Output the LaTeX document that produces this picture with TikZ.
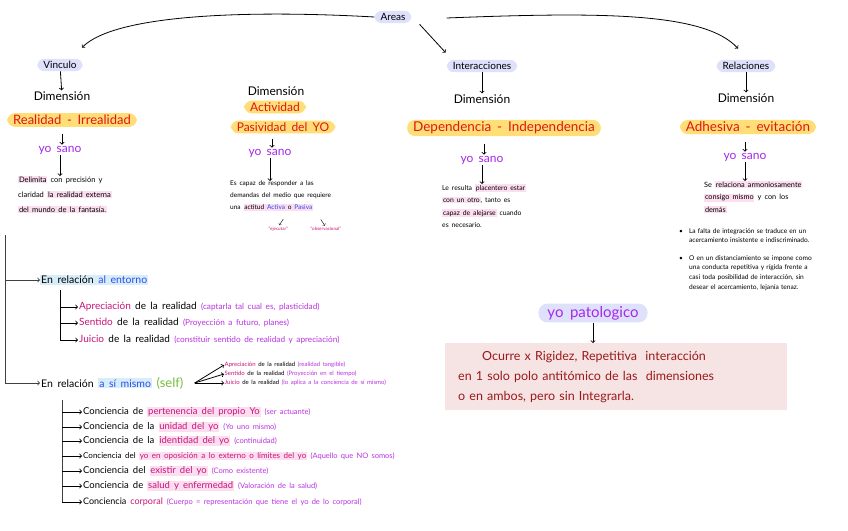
\documentclass[tikz,border=0pt]{standalone}
\usepackage{fontspec}
\setmainfont{Lato}[WordSpace=1.7]
\usetikzlibrary{arrows,shapes,positioning,calc}
\definecolor{lavender}{RGB}{222,224,252}
\definecolor{sunny}{RGB}{255,222,120}
\definecolor{redtext}{RGB}{222,22,22}
\definecolor{purp}{RGB}{165,40,235}
\definecolor{pinkhl}{RGB}{252,222,240}
\definecolor{magtext}{RGB}{200,20,120}
\definecolor{viol}{RGB}{185,50,225}
\definecolor{bluetxt}{RGB}{45,75,235}
\definecolor{bluehl}{RGB}{215,238,250}
\definecolor{greentxt}{RGB}{115,190,60}
\definecolor{boxfill}{RGB}{246,227,228}
\definecolor{boxtext}{RGB}{155,25,25}
\newcommand{\hl}[1]{{\setlength{\fboxsep}{0.8pt}\colorbox{pinkhl}{#1}}}
\newcommand{\paren}[1]{{\fontsize{7.5}{8}\selectfont\color{viol}(#1)}}
\newcommand{\magt}[1]{\textcolor{magtext}{#1}}
\tikzset{
  area/.style={fill=lavender, rounded corners=7pt, inner xsep=6pt, inner ysep=2.5pt, font=\fontsize{10}{12}\selectfont},
  dimlabel/.style={font=\fontsize{12}{14}\selectfont, inner sep=1pt},
  polo/.style={fill=sunny, rounded corners=8pt, text=redtext, inner xsep=6pt, inner ysep=2pt, font=\fontsize{13}{15}\selectfont},
  sano/.style={text=purp, font=\fontsize{12}{13}\selectfont, inner sep=1pt},
  nota/.style={align=left, anchor=north west, font=\fontsize{7}{12.5}\selectfont, inner sep=0pt},
  item/.style={anchor=west, font=\fontsize{9.5}{11}\selectfont, inner sep=1pt},
  menudo/.style={anchor=west, font=\fontsize{6}{7}\selectfont, inner sep=0.5pt},
  flecha/.style={->, thick},
  rama/.style={thick, black!75},
}
\begin{document}
\begin{tikzpicture}[x=1pt, y=-1pt]
    \useasboundingbox[fill=white] (0,0) rectangle (848,530);

    % top
    \node[area] (areas) at (393,17) {Areas};

    % Vinculo column
    \node[area] (vinculo) at (60,65) {Vinculo};
    \node[dimlabel] (dim1) at (62,96) {Dimensión};
    \node[polo] (polo1) at (72,120) {Realidad - Irrealidad};
    \node[sano] (sano1) at (60,150) {yo sano};
    \node[nota, font=\fontsize{7.5}{15}\selectfont] (nota1) at (18,176) {\hl{Delimita} con precisión y\\claridad \hl{la realidad externa}\\\hl{del mundo de la fantasía.}};
    \draw[flecha] (vinculo) -- (dim1);
    \draw[flecha] ($(sano1.north)+(2,-11)$) -- ($(sano1.north)+(2,0)$);
    \draw[flecha] (sano1) -- (nota1.north -| sano1);

    % Actividad column
    \node[dimlabel] (dim2) at (276,91) {Dimensión};
    \node[polo, font=\fontsize{12}{14}\selectfont] (polo2a) at (275,107) {Actividad};
    \node[polo, font=\fontsize{12}{14}\selectfont] (polo2b) at (283,127) {Pasividad del YO};
    \node[sano] (sano2) at (270,153) {yo sano};
    \node[nota, font=\fontsize{6.5}{12}\selectfont] (nota2) at (230,181) {Es capaz de responder a las\\demandas del medio que requiere\\una \hl{actitud \textcolor{bluetxt}{Activa} o \textcolor{bluetxt}{Pasiva}}};
    \node[menudo, font=\fontsize{4.5}{5}\selectfont, text=magtext] (ejec) at (268,229) {“ejecutar”};
    \node[menudo, font=\fontsize{4.5}{5}\selectfont, text=magtext] (obs) at (310,229) {“observacional”};
    \draw[flecha] ($(sano2.north)+(2,-9)$) -- ($(sano2.north)+(2,0)$);
    \draw[flecha] (sano2) -- (nota2.north -| sano2);
    \draw[->, thin] ($(ejec.north)+(5,-7)$) -- ($(ejec.north)+(1,-1)$);
    \draw[->, thin] ($(obs.north)+(-5,-7)$) -- ($(obs.north)+(-1,-1)$);

    % Interacciones column
    \node[area] (inter) at (482,66) {Interacciones};
    \node[dimlabel] (dim3) at (482,99) {Dimensión};
    \node[polo, font=\fontsize{13.5}{15}\selectfont] (polo3) at (504,128) {Dependencia - Independencia};
    \node[sano] (sano3) at (482,160) {yo sano};
    \node[nota, font=\fontsize{6.8}{12.5}\selectfont] (nota3) at (442,184) {Le resulta \hl{placentero estar}\\\hl{con un otro}, tanto es\\\hl{capaz de alejarse} cuando\\es necesario.};
    \draw[flecha] (inter) -- (dim3);
    \draw[flecha] ($(sano3.north)+(2,-11)$) -- ($(sano3.north)+(2,0)$);
    \draw[flecha] (sano3) -- (nota3.north -| sano3);

    % Relaciones column
    \node[area] (rel) at (746,66) {Relaciones};
    \node[dimlabel] (dim4) at (746,98) {Dimensión};
    \node[polo, font=\fontsize{13.5}{15}\selectfont] (polo4) at (748,127) {Adhesiva - evitación};
    \node[sano] (sano4) at (745,157) {yo sano};
    \node[nota, font=\fontsize{7.3}{12.5}\selectfont] (nota4) at (704,181) {Se \hl{relaciona armoniosamente}\\\hl{consigo mismo} y con los\\\hl{demás}};
    \node[anchor=north west, align=left, text width=150pt, inner sep=0pt, font=\fontsize{6.6}{9.6}\selectfont] (falta) at (679,228) {%
      \textbullet\hspace{6pt}La falta de integración se traduce en un\\
      \hspace{10pt}acercamiento insistente e indiscriminado.\\[8pt]
      \textbullet\hspace{6pt}O en un distanciamiento se impone como\\
      \hspace{10pt}una conducta repetitiva y rígida frente a\\
      \hspace{10pt}casi toda posibilidad de interacción, sin\\
      \hspace{10pt}desear el acercamiento, lejanía tenaz.};
    \draw[flecha] (rel) -- (dim4);
    \draw[flecha] ($(sano4.north)+(0,-10)$) -- ($(sano4.north)+(0,0)$);
    \draw[flecha] (sano4) -- (nota4.north -| sano4);

    % arrows from Areas
    \draw[flecha] (areas.west) .. controls (250,10) and (115,14) .. ($(vinculo.north)+(22,-11)$);
    \draw[flecha] ($(areas.south east)+(8,1)$) -- ($(inter.north west)+(-1,-7)$);
    \draw[flecha] ($(areas.east)+(35,1)$) .. controls (600,12) and (705,12) .. ($(rel.north)+(-8,-11)$);

    % En relacion al entorno
    \coordinate (raiz) at (5,235);
    \node[item, font=\fontsize{10.5}{12}\selectfont, fill=bluehl] (ent) at (40,280) {En relación \textcolor{bluetxt}{al entorno}};
    \node[item, font=\fontsize{10.5}{12}\selectfont] (self) at (40,383) {En relación {\setlength{\fboxsep}{1pt}\colorbox{bluehl}{\textcolor{bluetxt}{a sí mismo}}} \textcolor{greentxt}{\fontsize{13}{13}\selectfont(self)}};
    \draw[rama] (raiz) -- (raiz |- self);
    \draw[flecha, rama] (raiz |- ent) -- (ent);
    \draw[flecha, rama] (raiz |- self) -- (self);

    \coordinate (r1) at (60,290);
    \node[item, font=\fontsize{10}{11}\selectfont] (ap) at (78,307) {\magt{Apreciación} de la realidad {\fontsize{8.2}{9}\selectfont\color{viol}(captarla tal cual es, plasticidad)}};
    \node[item, font=\fontsize{10}{11}\selectfont] (se) at (78,323) {\magt{Sentido} de la realidad {\fontsize{8.2}{9}\selectfont\color{viol}(Proyección a futuro, planes)}};
    \node[item, font=\fontsize{10}{11}\selectfont] (ju) at (78,340) {\magt{Juicio} de la realidad {\fontsize{8.2}{9}\selectfont\color{viol}(constituir sentido de realidad y apreciación)}};
    \foreach \n in {ap,se,ju}
        \draw[flecha] (r1) |- (\n.west);

    % a si mismo
    \coordinate (fan) at ($(self.east)+(10,0)$);
    \node[menudo] (s1) at (224,365) {\magt{Apreciación} de la realidad {\color{viol}(realidad tangible)}};
    \node[menudo] (s2) at (224,374) {\magt{Sentido} de la realidad {\color{viol}(Proyección en el tiempo)}};
    \node[menudo] (s3) at (224,383) {\magt{Juicio} de la realidad {\color{viol}(lo aplica a la conciencia de sí mismo)}};
    \foreach \n in {s1,s2,s3}
        \draw[flecha] (fan) -- (\n.west);

    % conciencias
    \coordinate (r2) at (62,400);
    \node[item] (c1) at (82,412) {Conciencia de \hl{\magt{pertenencia del propio Yo}} \paren{ser actuante}};
    \node[item] (c2) at (82,427) {Conciencia de la \hl{\magt{unidad del yo}} \paren{Yo uno mismo}};
    \node[item] (c3) at (82,441) {Conciencia de la \hl{\magt{identidad del yo}} \paren{continuidad}};
    \node[item, font=\fontsize{8}{10}\selectfont] (c4) at (82,456) {Conciencia del \hl{\magt{yo en oposición a lo externo o límites del yo}} \paren{Aquello que NO somos}};
    \node[item] (c5) at (82,471) {Conciencia del \hl{\magt{existir del yo}} \paren{Como existente}};
    \node[item] (c6) at (82,486) {Conciencia de \hl{\magt{salud y enfermedad}} \paren{Valoración de la salud}};
    \node[item, font=\fontsize{9}{10}\selectfont] (c7) at (82,502) {Conciencia \magt{corporal} \paren{Cuerpo = representación que tiene el yo de lo corporal}};
    \draw[rama] (r2) -- (r2 |- c7);
    \foreach \i in {1,...,7}
        \draw[flecha] (r2 |- c\i) -- (c\i.west);

    % yo patologico
    \node[area, text=purp, font=\fontsize{15}{17}\selectfont, rounded corners=9pt, inner xsep=9pt] (pato) at (593,313) {yo patologico};
    \node[fill=boxfill, anchor=north west, text width=316pt, minimum height=67pt, inner xsep=13pt, text=boxtext, align=left, font=\fontsize{12.5}{20}\selectfont] (ocurre) at (445,343) {\hspace{24pt}Ocurre x Rigidez, Repetitiva \ interacción\\en 1 solo polo antitómico de las \ dimensiones\\o en ambos, pero sin Integrarla.};
    \draw[flecha] (pato) -- (ocurre.north -| pato);
\end{tikzpicture}
\end{document}
